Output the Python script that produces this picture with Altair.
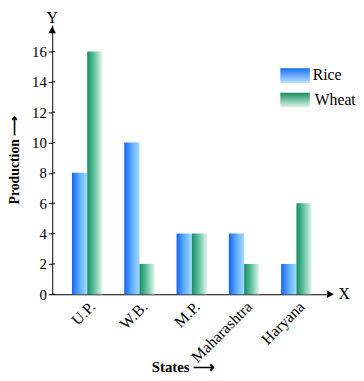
import altair as alt
import pandas as pd

states = ["U.P.", "W.B.", "M.P.", "Maharashtra", "Haryana"]
rice = [8, 10, 4, 4, 2]
wheat = [16, 2, 4, 2, 6]
crops = ["Rice", "Wheat"]
y_ticks = [0, 2, 4, 6, 8, 10, 12, 14, 16]

rows = []
for s, r, w in zip(states, rice, wheat):
    rows.append({"State": s, "Crop": "Rice", "Production": r})
    rows.append({"State": s, "Crop": "Wheat", "Production": w})
df = pd.DataFrame(rows)
ticks_df = pd.DataFrame({"Production": y_ticks})

W, H = 284, 274
SERIF = "Liberation Serif"

def hgrad(c0, c1, c2):
    return alt.Gradient(gradient="linear", x1=0, x2=1, y1=0, y2=0,
                        stops=[alt.GradientStop(color=c0, offset=0),
                               alt.GradientStop(color=c1, offset=0.45),
                               alt.GradientStop(color=c2, offset=1)])

def vgrad(c0, c1):
    return alt.Gradient(gradient="linear", x1=0, x2=0, y1=0, y2=1,
                        stops=[alt.GradientStop(color=c0, offset=0),
                               alt.GradientStop(color=c1, offset=1)])

rice_fill = hgrad("#1461ef", "#58a8ff", "#a4daff")
wheat_fill = hgrad("#138e66", "#5fc09b", "#e6f7ef")

y_scale = alt.Scale(domain=[0, 17.75], nice=False)
y_axis = alt.Axis(values=y_ticks, title="Production ⟶", tickSize=4,
                  labelPadding=2, labelOverlap=False, labelFlush=False,
                  labelFontSize=15,
                  titleFont=SERIF, titleFontSize=14,
                  titleFontWeight="bold", titleX=-38, titleY=137,
                  titleBaseline="middle")

x_enc = alt.X("State:N", sort=states,
              scale=alt.Scale(paddingInner=0.416, paddingOuter=0.377),
              axis=alt.Axis(title="States ⟶", labelAngle=-45, ticks=False,
                            labelPadding=4, labelFontSize=16,
                            titleFont=SERIF, titleFontSize=15,
                            titleFontWeight="bold", titleX=133, titleY=74,
                            titleBaseline="middle"))
y_enc = alt.Y("Production:Q", scale=y_scale, axis=y_axis)
xoff = alt.XOffset("Crop:N", scale=alt.Scale(domain=crops, paddingInner=0, paddingOuter=0))

base = alt.Chart(df).encode(x=x_enc, y=y_enc, xOffset=xoff)
rice_bars = base.transform_filter(alt.datum.Crop == "Rice").mark_bar(fill=rice_fill)
wheat_bars = base.transform_filter(alt.datum.Crop == "Wheat").mark_bar(fill=wheat_fill)

cross = alt.Chart(ticks_df).mark_rule(color="black").encode(
    y=alt.Y("Production:Q", scale=y_scale, axis=y_axis), x=alt.value(0), x2=alt.value(3))

one = pd.DataFrame({"a": [0]})
y_arrow = alt.Chart(one).mark_point(shape="triangle-up", filled=True, color="black",
                                    size=60, opacity=1).encode(x=alt.value(0), y=alt.value(5))
x_arrow = alt.Chart(one).mark_point(shape="triangle-right", filled=True, color="black",
                                    size=60, opacity=1).encode(x=alt.value(W - 1), y=alt.value(H))
y_lab = alt.Chart(one).mark_text(text="Y", font=SERIF, fontSize=16, color="black").encode(
    x=alt.value(0), y=alt.value(-7))
x_lab = alt.Chart(one).mark_text(text="X", font=SERIF, fontSize=16, color="black").encode(
    x=alt.value(297), y=alt.value(H))

leg_rice = alt.Chart(one).mark_rect(fill=vgrad("#1a6ff2", "#b9e2ff")).encode(
    x=alt.value(232), x2=alt.value(262), y=alt.value(44), y2=alt.value(59))
leg_wheat = alt.Chart(one).mark_rect(fill=vgrad("#15905f", "#e3f6ec")).encode(
    x=alt.value(232), x2=alt.value(262), y=alt.value(69), y2=alt.value(84))
leg_rice_t = alt.Chart(one).mark_text(text="Rice", font=SERIF, fontSize=16, align="left",
                                      color="black").encode(x=alt.value(265), y=alt.value(51))
leg_wheat_t = alt.Chart(one).mark_text(text="Wheat", font=SERIF, fontSize=16, align="left",
                                       color="black").encode(x=alt.value(267), y=alt.value(76))

chart = alt.layer(rice_bars, wheat_bars, cross, y_arrow, x_arrow, y_lab, x_lab,
                  leg_rice, leg_wheat, leg_rice_t, leg_wheat_t).properties(
    width=W, height=H,
    autosize=alt.AutoSizeParams(type="none"),
    padding={"left": 45, "top": 14, "right": 25, "bottom": 84},
).configure_view(stroke=None).configure_axis(
    grid=False, labelFont=SERIF, labelColor="black",
    domainColor="black", tickColor="black", titleColor="black"
)

chart.save("out.html", embed_options={"renderer": "svg", "actions": False})
